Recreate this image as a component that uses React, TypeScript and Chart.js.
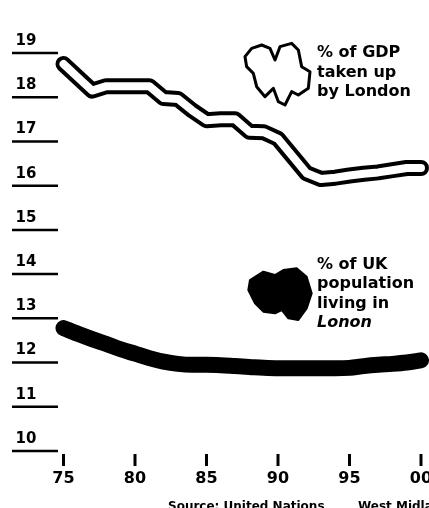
import React, { useEffect, useRef } from "react";
import { Chart, registerables } from "chart.js";

Chart.register(...registerables);

const years = [1975, 1976, 1977, 1978, 1979, 1980, 1981, 1982, 1983, 1984, 1985, 1986, 1987, 1988, 1989, 1990, 1991, 1992, 1993, 1994, 1995, 1996, 1997, 1998, 1999, 2000];
const gdpShare = [18.75, 18.45, 18.15, 18.25, 18.25, 18.25, 18.25, 17.98, 17.96, 17.7, 17.48, 17.5, 17.5, 17.22, 17.21, 17.06, 16.67, 16.28, 16.15, 16.18, 16.23, 16.27, 16.3, 16.35, 16.4, 16.4];
const popShare = [12.78, 12.65, 12.53, 12.42, 12.3, 12.2, 12.1, 12.02, 11.97, 11.95, 11.95, 11.94, 11.92, 11.9, 11.88, 11.87, 11.87, 11.87, 11.87, 11.87, 11.88, 11.92, 11.95, 11.97, 12.0, 12.05];
const yTicks = [10, 11, 12, 13, 14, 15, 16, 17, 18, 19];
const xTicks = [1975, 1980, 1985, 1990, 1995, 2000];
const xTickLabels = ["75", "80", "85", "90", "95", "00"];
const gdpLabel = ["% of GDP", "taken up", "by London"];
const popLabel = ["% of UK", "population", "living in", "Lonon"];
const sourceText = "Source: United Nations        West Midlands";

const FONT = "'DejaVu Sans', sans-serif";

function toPts(vals: number[]) {
  return years.map((y, i) => ({ x: y, y: vals[i] }));
}

const decorPlugin = {
  id: "decor",
  afterDraw(chart: any) {
    const ctx = chart.ctx as CanvasRenderingContext2D;
    const xs = chart.scales.x;
    const ys = chart.scales.y;
    ctx.save();
    ctx.fillStyle = "#000";
    ctx.strokeStyle = "#000";
    ctx.lineWidth = 2.5;
    ctx.font = `bold 15px ${FONT}`;
    ctx.textAlign = "center";
    ctx.textBaseline = "middle";
    yTicks.forEach((v) => {
      const py = ys.getPixelForValue(v);
      ctx.beginPath();
      ctx.moveTo(12, py);
      ctx.lineTo(58, py);
      ctx.stroke();
      ctx.fillText(String(v), 26, py - 12);
    });
    ctx.lineWidth = 3;
    ctx.font = `bold 16px ${FONT}`;
    xTicks.forEach((v, i) => {
      const px = xs.getPixelForValue(v);
      ctx.beginPath();
      ctx.moveTo(px, 454);
      ctx.lineTo(px, 466);
      ctx.stroke();
      ctx.fillText(xTickLabels[i], px, 479);
    });
    ctx.textAlign = "left";
    ctx.font = `bold 16px ${FONT}`;
    gdpLabel.forEach((t, i) => ctx.fillText(t, 317, 53 + i * 19.5));
    popLabel.forEach((t, i) => {
      ctx.font = i === 3 ? `italic bold 16px ${FONT}` : `bold 16px ${FONT}`;
      ctx.fillText(t, 317, 265 + i * 19.3);
    });
    const gdpIcon = [[75,80],[95,55],[125,45],[150,55],[165,90],[180,50],[215,40],[235,60],[245,110],[270,125],[265,175],[235,195],[215,185],[195,225],[175,215],[160,175],[135,200],[110,170],[100,130],[80,110]];
    ctx.beginPath();
    gdpIcon.forEach(([zx, zy], i) => {
      const px = 220 + zx / 3, py = 30 + zy / 3;
      if (i === 0) ctx.moveTo(px, py); else ctx.lineTo(px, py);
    });
    ctx.closePath();
    ctx.lineJoin = "round";
    ctx.lineWidth = 3;
    ctx.fillStyle = "#fff";
    ctx.fill();
    ctx.stroke();
    const popIcon = [[90,90],[130,65],[165,75],[190,60],[230,55],[260,80],[275,130],[260,175],[235,210],[205,205],[185,180],[165,190],[130,185],[105,160],[85,120]];
    ctx.beginPath();
    popIcon.forEach(([zx, zy], i) => {
      const px = 220 + zx / 3, py = 250 + zy / 3;
      if (i === 0) ctx.moveTo(px, py); else ctx.lineTo(px, py);
    });
    ctx.closePath();
    ctx.fillStyle = "#000";
    ctx.fill();
    ctx.lineWidth = 2;
    ctx.stroke();
    ctx.font = `bold 12px ${FONT}`;
    ctx.textBaseline = "top";
    ctx.fillText(sourceText, 168, 501);
    ctx.restore();
  },
};

export default function App() {
  const ref = useRef<HTMLCanvasElement>(null);
  useEffect(() => {
    document.body.style.margin = "0";
    document.body.style.overflow = "hidden";
    const chart = new Chart(ref.current!, {
      type: "line",
      data: {
        datasets: [
          {
            data: toPts(gdpShare),
            borderColor: "#000",
            borderWidth: 16,
            pointRadius: 0,
            tension: 0,
            borderCapStyle: "round",
            borderJoinStyle: "round",
            clip: false,
            order: 1,
          },
          {
            data: toPts(gdpShare),
            borderColor: "#fff",
            borderWidth: 8,
            pointRadius: 0,
            tension: 0,
            borderCapStyle: "round",
            borderJoinStyle: "round",
            clip: false,
            order: 0,
          },
          {
            data: toPts(popShare),
            borderColor: "#000",
            borderWidth: 16,
            pointRadius: 0,
            tension: 0.4,
            cubicInterpolationMode: "monotone",
            borderCapStyle: "round",
            borderJoinStyle: "round",
            clip: false,
            order: 2,
          },
        ],
      } as any,
      options: {
        responsive: false,
        animation: false,
        layout: { padding: { left: 63.5, right: 0, top: 53, bottom: 57 } },
        plugins: { legend: { display: false }, tooltip: { enabled: false } },
        scales: {
          x: { type: "linear", min: 1975, max: 2000.56, display: false },
          y: { type: "linear", min: 10, max: 19, display: false },
        },
      },
      plugins: [decorPlugin],
    });
    return () => chart.destroy();
  }, []);
  return (
    <div style={{ width: 429, height: 508, background: "#fff" }}>
      <canvas ref={ref} width={429} height={508} />
    </div>
  );
}
